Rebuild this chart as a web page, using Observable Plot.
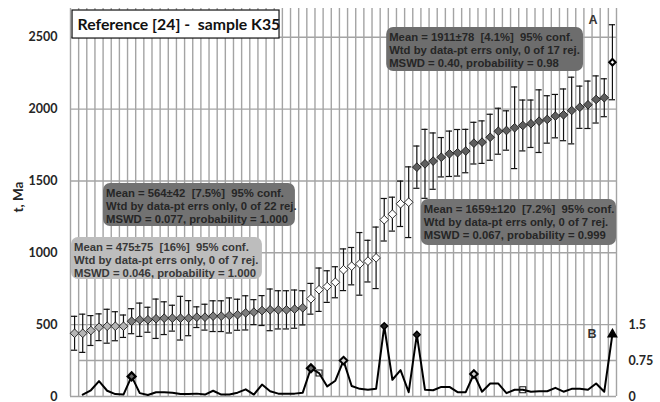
<!DOCTYPE html>
<html>
<head>
<meta charset="utf-8">
<script src="https://cdn.jsdelivr.net/npm/d3@7"></script>
<script src="https://cdn.jsdelivr.net/npm/@observablehq/plot@0.6"></script>
<style>
  html, body { margin: 0; padding: 0; background: #fff; }
  svg text { white-space: pre; }
</style>
</head>
<body>
<div id="chart"></div>
<script>
// Ranked U-Pb ages (Ma) with 2-sigma errors, sample K35
const ages = [
  440, 440, 459, 482, 489, 489, 489,
  524, 534, 534, 541, 545, 545, 545, 545, 552, 552, 559, 559, 564, 569, 582, 587, 598, 603, 603, 603, 608, 617,
  680, 743, 765, 795, 882, 907, 923, 942, 965, 1230, 1269, 1341, 1352,
  1596, 1619, 1638, 1665, 1689, 1696, 1708,
  1763, 1770, 1804, 1846, 1851, 1870, 1886, 1898, 1916, 1928, 1951, 1960, 1990, 2013, 2030, 2067, 2079,
  2326
];
const errors = [
  118, 133, 104, 93, 118, 101, 78,
  87, 116, 87, 137, 114, 90, 152, 122, 72, 90, 107, 107, 122, 108, 119, 87, 104, 145, 133, 133, 133, 119,
  107, 151, 110, 108, 145, 130, 218, 145, 214, 148, 118, 158, 246,
  147, 240, 196, 137, 158, 162, 151,
  145, 148, 160, 160, 137, 284, 177, 165, 218, 165, 151, 180, 232, 147, 165, 164, 132,
  261
];
// Age populations, in rank order
const groupNames = ["pop475", "pop564", "transitional", "pop1659", "pop1911", "youngestOutlier"];
const groupSizes = [7, 22, 13, 7, 17, 1];

// Panel B: series on the right-hand axis (first grain has no value)
const bValues = [
  null, 0.04, 0.13, 0.32, 0.12, 0.05, 0.04, 0.42, 0.07, 0.03, 0.09, 0.09, 0.08, 0.05, 0.05, 0.06, 0.04,
  0.12, 0.04, 0.04, 0.08, 0.15, 0.04, 0.25, 0.11, 0.06, 0.06, 0.06, 0.08, 0.59, 0.49, 0.21, 0.33,
  0.75, 0.22, 0.16, 0.14, 0.16, 1.47, 0.35, 0.55, 0.09, 1.29, 0.14, 0.13, 0.2, 0.2, 0.09, 0.09,
  0.47, 0.1, 0.27, 0.27, 0.07, 0.14, 0.14, 0.1, 0.11, 0.11, 0.18, 0.1, 0.16, 0.16, 0.14, 0.27, 0.1, 1.3
];
// Flagged grains in panel B (rank, marker kind)
const bFlagRanks = [8, 30, 34, 50, 39, 43, 31, 56, 67];
const bFlagKinds = ["ring", "ring", "open", "open", "solid", "solid", "square", "square", "triangle"];

const yTicks = [0, 500, 1000, 1500, 2000, 2500];
const bTicks = [0, 0.75, 1.5];
const yLabel = "t, Ma";

const titleText = "Reference [24] -  sample K35";
const statTexts = [
  "Mean = 1911±78  [4.1%]  95% conf.\nWtd by data-pt errs only, 0 of 17 rej.\nMSWD = 0.40, probability = 0.98",
  "Mean = 564±42  [7.5%]  95% conf.\nWtd by data-pt errs only, 0 of 22 rej.\nMSWD = 0.077, probability = 1.000",
  "Mean = 475±75  [16%]  95% conf.\nWtd by data-pt errs only, 0 of 7 rej.\nMSWD = 0.046, probability = 1.000",
  "Mean = 1659±120  [7.2%]  95% conf.\nWtd by data-pt errs only, 0 of 7 rej.\nMSWD = 0.067, probability = 0.999"
];

// ---- styling / layout ----
const groupFills = ["#b5b5b5", "#7d7d7d", "#ffffff", "#5e5e5e", "#5e5e5e", "#ffffff"];
const GRID = "#a4a4a4";
const B_TO_MA = 500 / 1.5;          // right axis 1.5 sits on the 500 Ma line
const n = ages.length;

const groupOf = groupSizes.flatMap((s, g) => Array(s).fill(groupNames[g]));
const points = ages.map((age, k) => ({
  rank: k + 1, age, err: errors[k], group: groupOf[k], b: bValues[k]
}));
const bLine = points.filter(d => d.b != null);
const bFlags = bFlagRanks.map((r, k) => ({rank: r, b: bValues[r - 1], kind: bFlagKinds[k]}));

// annotation boxes placed in data space (rank, Ma)
const statBoxes = [
  {x1: 39.3, x2: 63.45, y1: 2262, y2: 2568, fill: "#6d6d6d", color: "#262626", text: statTexts[0]},
  {x1: 4.55, x2: 28.1, y1: 1183, y2: 1482, fill: "#727272", color: "#262626", text: statTexts[1]},
  {x1: 0.62, x2: 24.05, y1: 814, y2: 1106, fill: "#bdbdbd", color: "#383838", text: statTexts[2]},
  {x1: 43.55, x2: 67.5, y1: 1051, y2: 1371, fill: "#737373", color: "#262626", text: statTexts[3]}
];
const titleBox = [{x1: 0.75, x2: 26.15, y1: 2491, y2: 2686, text: titleText}];
// vertical centre of the rotated axis title, in Ma
const yLabelAt = 1280;

const bold = {fontWeight: "bold"};
const boxFont = {fontFamily: "Liberation Sans, Arial, sans-serif", fontSize: 11.3, fontWeight: "bold"};
const axisFont = {fontFamily: "Lato, sans-serif", fontSize: 12.5, fontWeight: "bold", fill: "#262626"};

const chart = Plot.plot({
  width: 660,
  height: 402,
  marginLeft: 70,
  marginRight: 44,
  marginTop: 8,
  marginBottom: 6,
  x: {domain: [0.5, n + 0.5], axis: null},
  y: {domain: [0, 2700], axis: null},
  color: {domain: groupNames, range: groupFills},
  symbol: {domain: ["ring", "open", "solid", "square", "triangle"],
           range: ["diamond2", "diamond2", "diamond2", "square2", "triangle"]},
  style: {background: "#fff", overflow: "visible"},
  marks: [
    // gridlines
    Plot.ruleX(d3.range(0.5, n + 1, 1), {stroke: GRID, strokeWidth: 1.4}),
    Plot.ruleY(yTicks.slice(1), {stroke: GRID, strokeWidth: 1.4}),
    Plot.ruleY([0], {stroke: GRID, strokeWidth: 1.6}),
    Plot.ruleY([0.75 * B_TO_MA], {x1: 1.5, x2: n + 0.5, stroke: GRID, strokeWidth: 1.4}),

    // statistics boxes
    Plot.rect(statBoxes, {x1: "x1", x2: "x2", y1: "y1", y2: "y2", fill: d => d.fill, rx: 7}),
    Plot.text(statBoxes, {
      x: "x1", y: "y2", text: "text", fill: d => d.color,
      textAnchor: "start", lineAnchor: "top", lineHeight: 1.17,
      dx: 2.5, dy: 4, ...boxFont
    }),

    // title box
    Plot.rect(titleBox, {x1: "x1", x2: "x2", y1: "y1", y2: "y2", fill: "#fff", stroke: "#111", strokeWidth: 1.2}),
    Plot.text(titleBox, {
      x: "x1", y: d => (d.y1 + d.y2) / 2, text: "text", textAnchor: "start", dx: 5,
      fontFamily: "Lato, sans-serif", fontSize: 15.8, fontWeight: "bold", fill: "#111"
    }),

    // error bars with caps
    Plot.ruleX(points, {x: "rank", y1: d => d.age - d.err, y2: d => d.age + d.err, stroke: "#111", strokeWidth: 1.2}),
    Plot.ruleY(points, {y: d => d.age + d.err, x1: d => d.rank - 0.38, x2: d => d.rank + 0.38, stroke: "#111", strokeWidth: 1.2}),
    Plot.ruleY(points, {y: d => d.age - d.err, x1: d => d.rank - 0.38, x2: d => d.rank + 0.38, stroke: "#111", strokeWidth: 1.2}),

    // ages
    Plot.dot(points.filter(d => d.group !== "youngestOutlier"), {
      x: "rank", y: "age", symbol: () => "diamond2", r: 3.9,
      fill: "group", stroke: "#1a1a1a", strokeWidth: 0.9
    }),
    Plot.dot(points.filter(d => d.group === "youngestOutlier"), {
      x: "rank", y: "age", symbol: () => "diamond2", r: 2.9,
      fill: "#fff", stroke: "#000", strokeWidth: 2
    }),

    // panel B
    Plot.line(bLine, {x: "rank", y: d => d.b * B_TO_MA, stroke: "#000", strokeWidth: 2}),
    Plot.dot(bFlags.filter(d => d.kind === "ring"), {
      x: "rank", y: d => d.b * B_TO_MA, symbol: "kind", r: 3.6, fill: "#6a6a6a", stroke: "#000", strokeWidth: 2.2
    }),
    Plot.dot(bFlags.filter(d => d.kind === "open"), {
      x: "rank", y: d => d.b * B_TO_MA, symbol: "kind", r: 3.4, fill: "#d0d0d0", stroke: "#000", strokeWidth: 2
    }),
    Plot.dot(bFlags.filter(d => d.kind === "solid"), {
      x: "rank", y: d => d.b * B_TO_MA, symbol: "kind", r: 3, fill: "#222", stroke: "#000", strokeWidth: 1.5
    }),
    Plot.dot(bFlags.filter(d => d.kind === "square"), {
      x: "rank", y: d => d.b * B_TO_MA, symbol: "kind", r: 3.4, fill: "none", stroke: "#111", strokeWidth: 1.1
    }),
    Plot.dot(bFlags.filter(d => d.kind === "triangle"), {
      x: "rank", y: d => d.b * B_TO_MA, symbol: "kind", r: 3.1, fill: "#000", stroke: "#000"
    }),

    // left axis
    Plot.text(yTicks, {y: d => d, text: d => String(d), frameAnchor: "left", textAnchor: "end", dx: -13, ...axisFont}),
    Plot.text([yLabel], {y: () => yLabelAt, text: d => d, frameAnchor: "left", rotate: -90, dx: -52, ...axisFont, fontSize: 13.5}),
    // right axis (panel B)
    Plot.text(bTicks, {y: d => d * B_TO_MA, text: d => String(d), frameAnchor: "right", textAnchor: "start", dx: 12, ...axisFont}),

    // panel letters
    Plot.text(["A"], {frameAnchor: "top-right", dx: -19, dy: 7, fontFamily: "Liberation Sans, Arial, sans-serif", fontSize: 12.5, ...bold, fill: "#333"}),
    Plot.text(["B"], {y: () => bTicks[2] * B_TO_MA, frameAnchor: "right", dx: -20, dy: 9, fontFamily: "Liberation Sans, Arial, sans-serif", fontSize: 12.5, ...bold, fill: "#333"})
  ]
});

document.getElementById("chart").appendChild(chart);
</script>
</body>
</html>
